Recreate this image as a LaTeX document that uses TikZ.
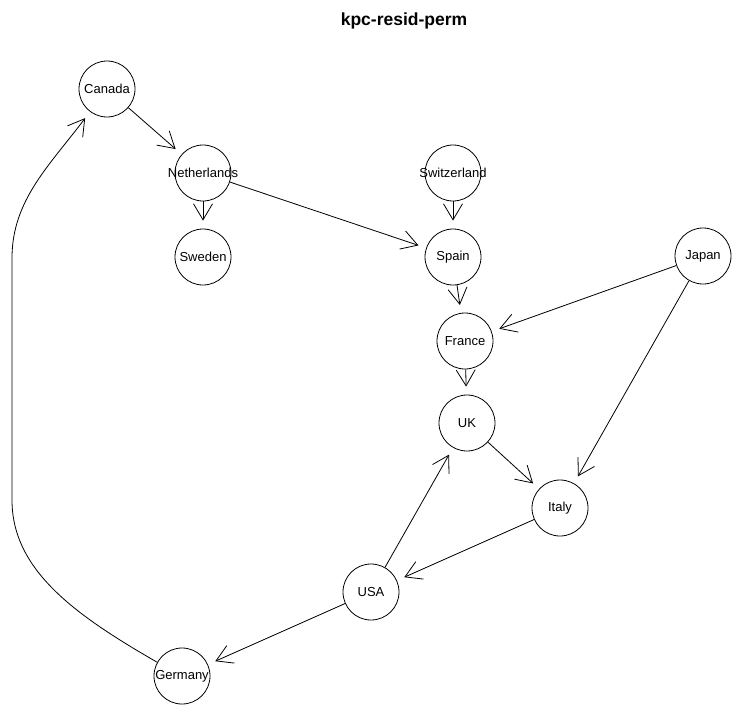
\documentclass[tikz,border=0pt]{standalone}
\usepackage{fontspec}
\setmainfont{Liberation Sans}
\usetikzlibrary{arrows.meta}
\newcommand\nodelbl[1]{\makebox[0pt]{#1}}
\begin{document}
\begin{tikzpicture}[x=1pt,y=-1pt,
  vnode/.style={draw,circle,line width=0.8pt,minimum size=56pt,inner sep=0pt,font=\fontsize{13}{15}\selectfont},
  edge/.style={draw,line width=0.8pt,shorten >=8pt,-{Straight Barb[length=16pt,width=19pt,line width=0.8pt]}}]
\useasboundingbox (0,0) rectangle (735,709);
\node[font=\bfseries\fontsize{17.5}{20}\selectfont] (title) at (404,21) {kpc-resid-perm};
\node[vnode] (Canada) at (107,89) {\nodelbl{Canada}};
\node[vnode] (Netherlands) at (203,173) {\nodelbl{Netherlands}};
\node[vnode] (Sweden) at (203,257) {\nodelbl{Sweden}};
\node[vnode] (Switzerland) at (453,173) {\nodelbl{Switzerland}};
\node[vnode] (Spain) at (453,257) {\nodelbl{Spain}};
\node[vnode] (Japan) at (703,256) {\nodelbl{Japan}};
\node[vnode] (France) at (465,341) {\nodelbl{France}};
\node[vnode] (UK) at (467,423) {\nodelbl{UK}};
\node[vnode] (Italy) at (560,508) {\nodelbl{Italy}};
\node[vnode] (USA) at (371,592) {\nodelbl{USA}};
\node[vnode] (Germany) at (182,676) {\nodelbl{Germany}};
\draw[edge] (Canada) -- (Netherlands);
\draw[edge] (Netherlands) -- (Sweden);
\draw[edge] (Netherlands) -- (Spain);
\draw[edge] (Switzerland) -- (Spain);
\draw[edge] (Spain) -- (France);
\draw[edge] (Japan) -- (France);
\draw[edge] (Japan) -- (Italy);
\draw[edge] (France) -- (UK);
\draw[edge] (UK) -- (Italy);
\draw[edge] (Italy) -- (USA);
\draw[edge] (USA) -- (UK);
\draw[edge] (USA) -- (Germany);
\coordinate (b1) at (12,500);
\coordinate (b2) at (12,258);
\draw[edge] (Germany.151) .. controls (75,615) and (12,570) .. (b1) -- (b2) .. controls (12,200) and (50,165) .. (Canada);
\end{tikzpicture}
\end{document}
